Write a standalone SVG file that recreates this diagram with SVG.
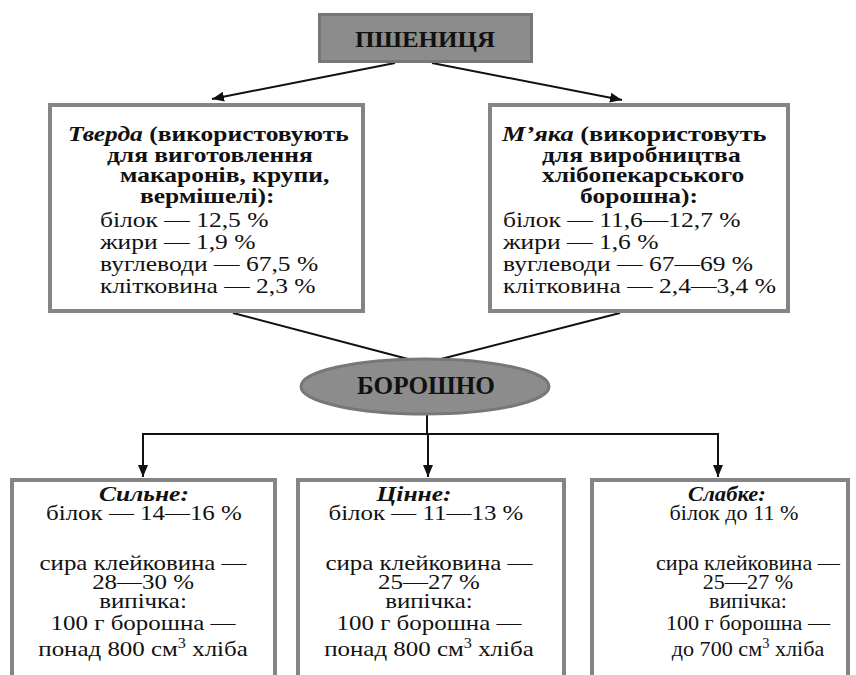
<svg xmlns="http://www.w3.org/2000/svg" width="856" height="675" viewBox="0 0 856 675">
<style>
.box{fill:#ffffff;stroke:#858585;stroke-width:4}
.gray{fill:#8c8c8c;stroke:#777777;stroke-width:3}
.ln{stroke:#111111;stroke-width:2;fill:none}
text{font-family:"Liberation Serif","Times New Roman",serif;fill:#111111}
.hd{font-weight:bold;font-size:22px}
.bd{font-size:22px}
.bt{font-size:21.5px}
.ti{font-weight:bold;font-style:italic;font-size:22px}
.c{text-anchor:middle}
</style>
<defs>
<marker id="ah" viewBox="0 0 12 10" refX="12" refY="5" markerWidth="12" markerHeight="10" markerUnits="userSpaceOnUse" orient="auto">
<path d="M0,0 L12,5 L0,10 z" fill="#111111"/>
</marker>
</defs>
<g id="connectors">
<line class="ln" x1="395" y1="63" x2="212" y2="99" marker-end="url(#ah)"/>
<line class="ln" x1="432" y1="63" x2="622" y2="100" marker-end="url(#ah)"/>
<line class="ln" x1="233" y1="313" x2="408" y2="359"/>
<line class="ln" x1="620" y1="313" x2="441" y2="359"/>
<line class="ln" x1="427" y1="414" x2="427" y2="434"/>
<line class="ln" x1="142" y1="434" x2="718" y2="434"/>
<line class="ln" x1="143" y1="433" x2="143" y2="477" marker-end="url(#ah)"/>
<line class="ln" x1="428" y1="433" x2="428" y2="477" marker-end="url(#ah)"/>
<line class="ln" x1="718" y1="433" x2="718" y2="477" marker-end="url(#ah)"/>
</g>
<g id="wheat">
<rect class="gray" x="319.5" y="14.5" width="212" height="47"/>
<text class="hd c" x="425" y="47" style="font-size:23px" textLength="140" lengthAdjust="spacingAndGlyphs">ПШЕНИЦЯ</text>
</g>
<g id="hard">
<rect class="box" x="50" y="105" width="313" height="206"/>
<g transform="scale(1.16 1)">
<text class="hd" x="58.6" y="141"><tspan font-style="italic">Тверда</tspan> (використовують</text>
<text class="hd" x="92.2" y="162">для виготовлення</text>
<text class="hd" x="103.4" y="182">макаронів, крупи,</text>
<text class="hd" x="120.7" y="203">вермішелі):</text>
<text class="bd" x="86.2" y="227">білок — 12,5 %</text>
<text class="bd" x="86.2" y="249">жири — 1,9 %</text>
<text class="bd" x="86.2" y="271">вуглеводи — 67,5 %</text>
<text class="bd" x="86.2" y="293">клітковина — 2,3 %</text>
</g>
</g>
<g id="soft">
<rect class="box" x="490" y="105" width="298" height="206"/>
<g transform="scale(1.16 1)">
<text class="hd" x="432.8" y="141" textLength="228" lengthAdjust="spacingAndGlyphs"><tspan font-style="italic">М’яка</tspan> (використовуть</text>
<text class="hd" x="467.2" y="162">для виробництва</text>
<text class="hd" x="467.2" y="182">хлібопекарського</text>
<text class="hd" x="500" y="203">борошна):</text>
<text class="bd" x="433.6" y="227">білок — 11,6—12,7 %</text>
<text class="bd" x="433.6" y="249">жири — 1,6 %</text>
<text class="bd" x="433.6" y="271">вуглеводи — 67—69 %</text>
<text class="bd" x="433.6" y="293">клітковина — 2,4—3,4 %</text>
</g>
</g>
<g id="flour">
<ellipse class="gray" cx="425" cy="386.5" rx="124" ry="27.5"/>
<text class="hd c" x="426" y="394" style="font-size:26px" textLength="138" lengthAdjust="spacingAndGlyphs">БОРОШНО</text>
</g>
<g id="strong">
<rect class="box" x="12" y="480" width="263" height="210"/>
<g transform="scale(1.16 1)">
<text class="ti c" x="124.1" y="501">Сильне:</text>
<text class="bt c" x="124.1" y="520">білок — 14—16 %</text>
<text class="bt c" x="123.3" y="570">сира клейковина —</text>
<text class="bt c" x="123.3" y="589">28—30 %</text>
<text class="bt c" x="123.3" y="608">випічка:</text>
<text class="bt c" x="123.3" y="630">100 г борошна —</text>
<text class="bt c" x="123.3" y="656">понад 800 см<tspan font-size="14" dy="-8">3</tspan><tspan dy="8"> хліба</tspan></text>
</g>
</g>
<g id="valuable">
<rect class="box" x="298" y="480" width="266" height="210"/>
<g transform="scale(1.16 1)">
<text class="ti c" x="356.9" y="501">Цінне:</text>
<text class="bt c" x="367.2" y="520">білок — 11—13 %</text>
<text class="bt c" x="369.8" y="570">сира клейковина —</text>
<text class="bt c" x="369.8" y="589">25—27 %</text>
<text class="bt c" x="369.8" y="608">випічка:</text>
<text class="bt c" x="369.8" y="630">100 г борошна —</text>
<text class="bt c" x="369.8" y="656">понад 800 см<tspan font-size="14" dy="-8">3</tspan><tspan dy="8"> хліба</tspan></text>
</g>
</g>
<g id="weak">
<rect class="box" x="592" y="480" width="256" height="210"/>
<g transform="scale(1.03 1)">
<text class="ti c" x="705.8" y="501">Слабке:</text>
<text class="bt c" x="712.6" y="520">білок до 11 %</text>
<text class="bt c" x="726.2" y="570">сира клейковина —</text>
<text class="bt c" x="726.2" y="589">25—27 %</text>
<text class="bt c" x="726.2" y="608">випічка:</text>
<text class="bt c" x="726.2" y="630">100 г борошна —</text>
<text class="bt c" x="726.2" y="656">до 700 см<tspan font-size="14" dy="-8">3</tspan><tspan dy="8"> хліба</tspan></text>
</g>
</g>
</svg>
